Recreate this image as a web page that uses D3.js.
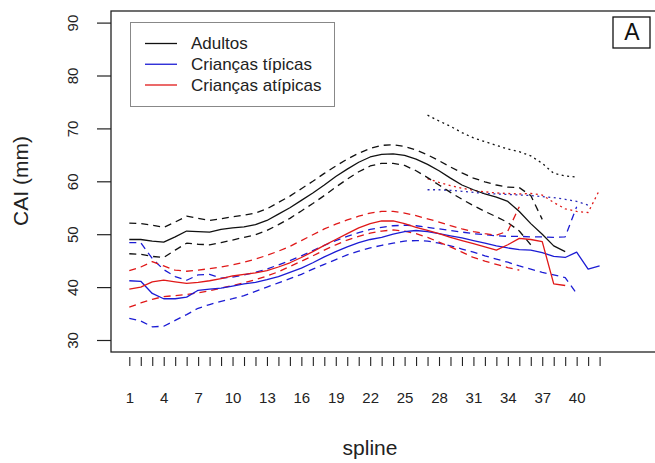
<!DOCTYPE html>
<html>
<head>
<meta charset="utf-8">
<script src="https://cdn.jsdelivr.net/npm/d3@7"></script>
<style>
  html, body { margin: 0; padding: 0; background: #fff; }
  svg { display: block; font-family: "Liberation Sans", Arial, sans-serif; }
</style>
</head>
<body>
<svg id="chart" width="655" height="463"></svg>
<script>
// ---------------- data ----------------
const xTicks = d3.range(1, 43);
const xTickLabels = [1, 4, 7, 10, 13, 16, 19, 22, 25, 28, 31, 34, 37, 40];
const yTicks = [30, 40, 50, 60, 70, 80, 90];
const legendLabels = ["Adultos", "Crianças típicas", "Crianças atípicas"];
const xLabel = "spline";
const yLabel = "CAI (mm)";
const panelLabel = "A";

// Adultos (x = 1..)
const adultos = [49.0, 49.0, 48.7, 48.5, 49.5, 50.6, 50.5, 50.4, 50.9, 51.2, 51.4, 51.8, 52.6, 53.8, 55.0, 56.4, 57.8, 59.3, 60.9, 62.3, 63.6, 64.6, 65.1, 65.2, 64.9, 64.2, 63.2, 62.0, 60.6, 59.3, 58.4, 57.6, 57.0, 56.2, 54.3, 52.0, 50.0, 47.8, 46.7];
const adultosUpper = [52.1, 52.0, 51.7, 51.3, 52.3, 53.4, 53.0, 52.6, 52.9, 53.3, 53.6, 54.0, 54.8, 56.0, 57.2, 58.6, 60.0, 61.5, 62.9, 64.2, 65.3, 66.2, 66.8, 66.9, 66.6, 65.9, 65.0, 63.9, 62.7, 61.6, 60.6, 59.9, 59.3, 58.9, 58.8, 57.3, 52.8];
const adultosLower = [46.3, 46.2, 45.8, 45.6, 47.0, 48.3, 48.1, 48.0, 48.4, 48.9, 49.4, 49.9, 50.7, 51.8, 53.0, 54.4, 55.8, 57.3, 58.9, 60.4, 61.8, 62.9, 63.4, 63.4, 63.0, 62.0, 60.7, 59.3, 57.9, 56.6, 55.4, 54.3, 53.3, 52.2, 50.6, 48.0];
const adultosDotted = [null, null, null, null, null, null, null, null, null, null, null, null, null, null, null, null, null, null, null, null, null, null, null, null, null, null, 72.5, 71.4, 70.4, 69.2, 68.2, 67.5, 66.8, 66.1, 65.6, 64.8, 63.4, 61.5, 61.0, 60.8];

// Crianças típicas
const tipicas = [41.2, 41.1, 38.8, 37.8, 37.8, 38.1, 39.4, 39.6, 39.8, 40.2, 40.6, 40.9, 41.4, 42.0, 42.8, 43.6, 44.6, 45.7, 46.7, 47.6, 48.4, 49.0, 49.4, 50.0, 50.5, 50.7, 50.5, 50.1, 49.7, 49.3, 48.8, 48.3, 47.8, 47.4, 47.1, 47.0, 46.5, 45.8, 45.6, 46.6, 43.4, 44.0];
const tipicasUpper = [48.4, 48.4, 45.4, 43.3, 42.0, 41.3, 42.3, 42.4, 41.7, 41.9, 42.3, 42.8, 43.4, 44.2, 45.0, 45.9, 46.9, 47.9, 48.8, 49.6, 50.3, 50.9, 51.3, 51.6, 51.7, 51.6, 51.3, 51.0, 50.7, 50.4, 50.1, 49.9, 49.7, 49.6, 49.6, 49.5, 49.5, 49.4, 49.5, 55.2];
const tipicasLower = [34.1, 33.6, 32.5, 32.6, 33.7, 34.8, 36.0, 36.7, 37.3, 37.8, 38.4, 39.2, 40.0, 40.8, 41.6, 42.4, 43.4, 44.3, 45.2, 46.1, 46.8, 47.4, 47.9, 48.3, 48.7, 48.8, 48.7, 48.3, 47.8, 47.2, 46.6, 45.9, 45.3, 44.7, 44.0, 43.4, 42.8, 42.3, 41.8, 38.8];
const tipicasDotted = [null, null, null, null, null, null, null, null, null, null, null, null, null, null, null, null, null, null, null, null, null, null, null, null, null, null, 58.4, 58.4, 58.3, 58.1, 57.9, 57.7, 57.6, 57.5, 57.4, 57.3, 57.1, 56.9, 56.6, 56.2, 55.5];

// Crianças atípicas
const atipicas = [39.6, 40.0, 41.0, 41.3, 41.0, 40.7, 40.9, 41.2, 41.6, 42.1, 42.4, 42.7, 43.1, 43.8, 44.6, 45.6, 46.7, 47.9, 49.0, 50.1, 51.2, 52.0, 52.5, 52.5, 52.0, 51.3, 50.7, 50.1, 49.4, 48.8, 48.2, 47.6, 47.0, 48.0, 49.2, 49.0, 48.6, 40.6, 40.3];
const atipicasUpper = [43.1, 43.8, 44.8, 44.0, 43.2, 43.0, 43.2, 43.5, 43.8, 44.2, 44.7, 45.3, 46.0, 46.8, 47.7, 48.8, 49.9, 51.0, 51.9, 52.7, 53.4, 54.0, 54.3, 54.3, 54.0, 53.5, 52.9, 52.3, 51.6, 51.0, 50.5, 50.1, 49.8, 50.6, 55.2];
const atipicasLower = [36.2, 37.0, 37.7, 38.2, 38.4, 38.6, 38.9, 39.3, 39.8, 40.3, 40.8, 41.4, 42.1, 42.9, 43.9, 44.9, 45.9, 47.0, 48.0, 48.9, 49.6, 50.2, 50.6, 50.8, 50.6, 50.1, 49.4, 48.5, 47.6, 46.6, 45.6, 44.9, 44.3, 43.7, 43.2];
const atipicasDotted = [null, null, null, null, null, null, null, null, null, null, null, null, null, null, null, null, null, null, null, null, null, null, null, null, null, null, 60.5, 59.8, 59.2, 58.7, 58.3, 58.0, 57.8, 57.7, 57.6, 57.7, 57.4, 56.0, 54.8, 54.3, 54.1, 58.4];

// ---------------- drawing ----------------
const W = 655, H = 463;
const box = { left: 111, top: 11, right: 660, bottom: 352 };
const svg = d3.select("#chart");

const x = d3.scaleLinear().domain([1, 42]).range([129.3, 599.6]);
const y = d3.scaleLinear().domain([30, 90]).range([340, 22.6]);

const colBlack = "#111", colBlue = "#1c1cd4", colRed = "#e01818";
const dash = "7,5", dot = "2,3.5";

const series = [
  { v: adultosDotted, c: colBlack, d: dot },
  { v: atipicasDotted, c: colRed, d: dot },
  { v: tipicasDotted, c: "#2a2ab8", d: dot },
  { v: adultosUpper, c: colBlack, d: dash },
  { v: adultosLower, c: colBlack, d: dash },
  { v: tipicasUpper, c: colBlue, d: dash },
  { v: tipicasLower, c: colBlue, d: dash },
  { v: atipicasUpper, c: colRed, d: dash },
  { v: atipicasLower, c: colRed, d: dash },
  { v: adultos, c: colBlack, d: null },
  { v: tipicas, c: colBlue, d: null },
  { v: atipicas, c: colRed, d: null }
];

const line = d3.line()
  .defined(d => d != null)
  .x((d, i) => x(i + 1))
  .y(d => y(d));

const g = svg.append("g");
series.forEach(s => {
  g.append("path")
    .attr("d", line(s.v))
    .attr("fill", "none")
    .attr("stroke", s.c)
    .attr("stroke-width", 1.3)
    .attr("stroke-dasharray", s.d)
    .attr("stroke-linejoin", "round");
});

// plot box
svg.append("rect")
  .attr("x", box.left).attr("y", box.top)
  .attr("width", box.right - box.left).attr("height", box.bottom - box.top)
  .attr("fill", "none").attr("stroke", "#222").attr("stroke-width", 1.3);

// y axis
const yAxis = d3.axisLeft(y).tickValues(yTicks).tickSize(14).tickPadding(4).tickFormat(d3.format("d"));
const yg = svg.append("g").attr("transform", `translate(${box.left},0)`).call(yAxis);
yg.select(".domain").remove();
yg.selectAll(".tick line").attr("stroke", "#222").attr("stroke-width", 1.2);
yg.selectAll(".tick text")
  .attr("x", null).attr("dy", null)
  .attr("transform", "translate(-33,0) rotate(-90)")
  .attr("text-anchor", "middle")
  .attr("font-size", 15)
  .attr("font-family", "Liberation Sans, Arial, sans-serif")
  .attr("fill", "#222");

// x axis (ticks detached from box)
const xAxis = d3.axisBottom(x).tickValues(xTicks).tickSize(9).tickPadding(26)
  .tickFormat(d => xTickLabels.includes(d) ? d : "");
const xg = svg.append("g").attr("transform", "translate(0,357)").call(xAxis);
xg.select(".domain").remove();
xg.selectAll(".tick line").attr("stroke", "#222").attr("stroke-width", 1.1);
xg.selectAll(".tick text")
  .attr("font-size", 15)
  .attr("font-family", "Liberation Sans, Arial, sans-serif")
  .attr("fill", "#222");

// axis titles
svg.append("text")
  .attr("x", 370).attr("y", 455)
  .attr("text-anchor", "middle")
  .attr("font-size", 21).attr("fill", "#222")
  .text(xLabel);
svg.append("text")
  .attr("transform", "translate(28,181) rotate(-90)")
  .attr("text-anchor", "middle")
  .attr("font-size", 21).attr("fill", "#222")
  .text(yLabel);

// panel label
svg.append("rect")
  .attr("x", 613).attr("y", 17).attr("width", 37).attr("height", 31)
  .attr("fill", "#fff").attr("stroke", "#111").attr("stroke-width", 1.3);
svg.append("text")
  .attr("x", 632).attr("y", 39.5)
  .attr("text-anchor", "middle")
  .attr("font-size", 23).attr("fill", "#111")
  .text(panelLabel);

// legend
const lg = svg.append("g");
lg.append("rect")
  .attr("x", 130.5).attr("y", 22.5).attr("width", 204).attr("height", 84)
  .attr("fill", "#fff").attr("stroke", "#888").attr("stroke-width", 1);
const legendColors = [colBlack, colBlue, colRed];
const rowY = d3.scalePoint().domain(legendLabels).range([43.5, 85]);
legendLabels.forEach((lab, i) => {
  lg.append("line")
    .attr("x1", 145).attr("x2", 177)
    .attr("y1", rowY(lab)).attr("y2", rowY(lab))
    .attr("stroke", legendColors[i]).attr("stroke-width", 1.3);
  lg.append("text")
    .attr("x", 191).attr("y", rowY(lab)).attr("dy", "0.35em")
    .attr("font-size", 17).attr("fill", "#222")
    .text(lab);
});
</script>
</body>
</html>
